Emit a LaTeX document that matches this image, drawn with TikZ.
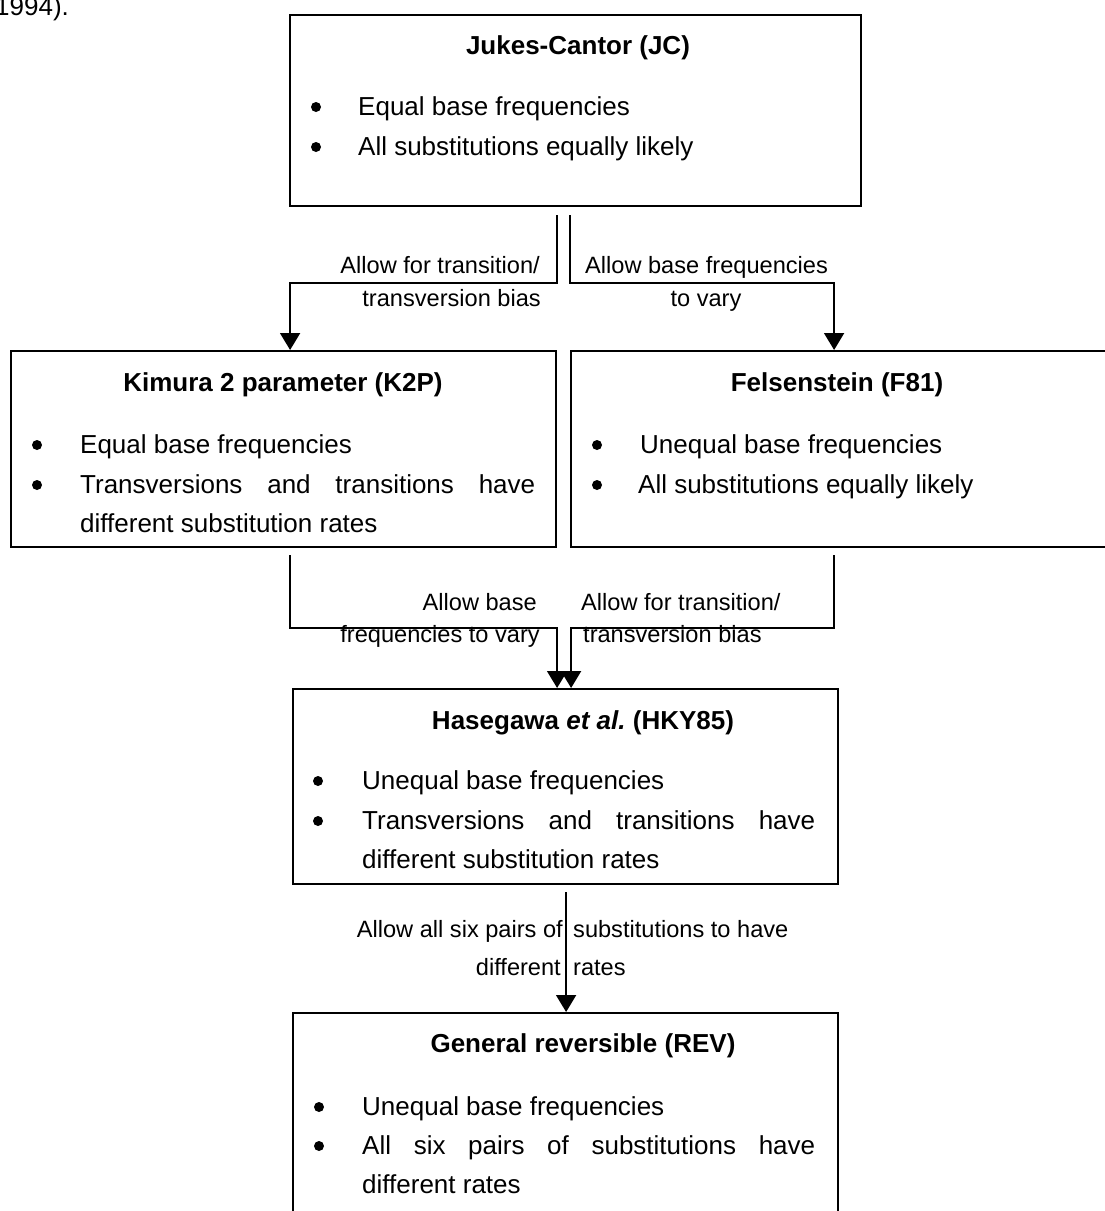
\documentclass[tikz,border=0pt]{standalone}
\usepackage{fontspec}
\setmainfont{Liberation Sans}
\usetikzlibrary{arrows.meta}
\begin{document}
\begin{tikzpicture}[x=1pt,y=-1pt,
  box/.style={draw, line width=2.2pt, inner sep=0pt, anchor=north west},
  conn/.style={line width=1.8pt, -{Triangle[width=20pt,length=17pt]}},
  title/.style={font=\fontsize{26}{31}\selectfont\bfseries, inner sep=0pt, anchor=base},
  body/.style={font=\fontsize{26}{31}\selectfont, inner sep=0pt, anchor=base west},
  dot/.style={circle, fill=black, draw=none, inner sep=0pt, minimum size=10pt},
  lbl/.style={font=\fontsize{23.6}{30}\selectfont, inner sep=0pt}]
\useasboundingbox (0,0) rectangle (1104,1211);
\fill[white] (0,0) rectangle (1104,1211);

% running text above the figure
\node[body] (prev) at (-5,15) {1994).};

% model boxes
\node[box, minimum width=571pt, minimum height=191pt] (jc)  at (289,14)   {};
\node[box, minimum width=545pt, minimum height=196pt] (k2p) at (10,350)   {};
\node[box, minimum width=560pt, minimum height=196pt] (f81) at (570,350)  {};
\node[box, minimum width=545pt, minimum height=195pt] (hky) at (292,688)  {};
\node[box, minimum width=545pt, minimum height=240pt] (rev) at (292,1012) {};

% Jukes-Cantor
\node[title] (jct) at (578,54) {Jukes-Cantor (JC)};
\node[dot]  (jcb1) at (316,107) {};
\node[body] (jc1)  at (358,115) {Equal base frequencies};
\node[dot]  (jcb2) at (316,147) {};
\node[body] (jc2)  at (358,155) {All substitutions equally likely};

% Kimura 2 parameter
\node[title] (k2pt) at (283,391) {Kimura 2 parameter (K2P)};
\node[dot]  (k2pb1) at (37,445) {};
\node[body] (k2p1)  at (80,453) {Equal base frequencies};
\node[dot]  (k2pb2) at (37,485) {};
\node[body] (k2p2)  at (80,493) {\makebox[455pt][s]{Transversions and transitions have}};
\node[body] (k2p3)  at (80,532) {different substitution rates};

% Felsenstein
\node[title] (f81t) at (837,391) {Felsenstein (F81)};
\node[dot]  (f81b1) at (597,445) {};
\node[body] (f811)  at (640,453) {Unequal base frequencies};
\node[dot]  (f81b2) at (597,485) {};
\node[body] (f812)  at (638,493) {All substitutions equally likely};

% Hasegawa et al.
\node[title] (hkyt) at (583,729) {Hasegawa {\itshape et al.}\ (HKY85)};
\node[dot]  (hkyb1) at (318,781) {};
\node[body] (hky1)  at (362,789) {Unequal base frequencies};
\node[dot]  (hkyb2) at (318,821) {};
\node[body] (hky2)  at (362,829) {\makebox[453pt][s]{Transversions and transitions have}};
\node[body] (hky3)  at (362,868) {different substitution rates};

% General reversible
\node[title] (revt) at (583,1052) {General reversible (REV)};
\node[dot]  (revb1) at (319,1107) {};
\node[body] (rev1)  at (362,1115) {Unequal base frequencies};
\node[dot]  (revb2) at (319,1146) {};
\node[body] (rev2)  at (362,1154) {\makebox[453pt][s]{All six pairs of substitutions have}};
\node[body] (rev3)  at (362,1193) {different rates};

% connectors
\draw[conn] ([xshift=-18.5pt,yshift=-8pt]jc.south) -- ++(0,68) -| ([xshift=6.5pt]k2p.north);
\draw[conn] ([xshift=-5.5pt,yshift=-8pt]jc.south) -- ++(0,68) -| ([xshift=-17pt]f81.north);
\draw[conn] ([xshift=6.5pt,yshift=-7pt]k2p.south) -- ++(0,73) -| ([xshift=-8.5pt]hky.north);
\draw[conn] ([xshift=-17pt,yshift=-7pt]f81.south) -- ++(0,73) -| ([xshift=5.5pt]hky.north);
\draw[conn] ([xshift=0.5pt,yshift=-7pt]hky.south) -- ([xshift=0.5pt]rev.north);

% connector labels
\node[lbl, anchor=base east] (a1) at (540,273.5) {Allow for transition/};
\node[lbl, anchor=base east] (a2) at (541,306.5) {transversion bias};
\node[lbl, anchor=base west] (b1) at (585,273.5) {Allow base frequencies};
\node[lbl, anchor=base]      (b2) at (706,306.5) {to vary};
\node[lbl, anchor=base east] (c1) at (537,610) {Allow base};
\node[lbl, anchor=base east] (c2) at (540,642) {frequencies to vary};
\node[lbl, anchor=base west] (d1) at (581,610) {Allow for transition/};
\node[lbl, anchor=base west] (d2) at (583,642) {transversion bias};
\node[lbl, anchor=base east] (e1) at (563,937) {Allow all six pairs of};
\node[lbl, anchor=base east] (e2) at (561,975) {different};
\node[lbl, anchor=base west] (f1) at (573,937) {substitutions to have};
\node[lbl, anchor=base west] (f2) at (573,975) {rates};
\end{tikzpicture}
\end{document}
